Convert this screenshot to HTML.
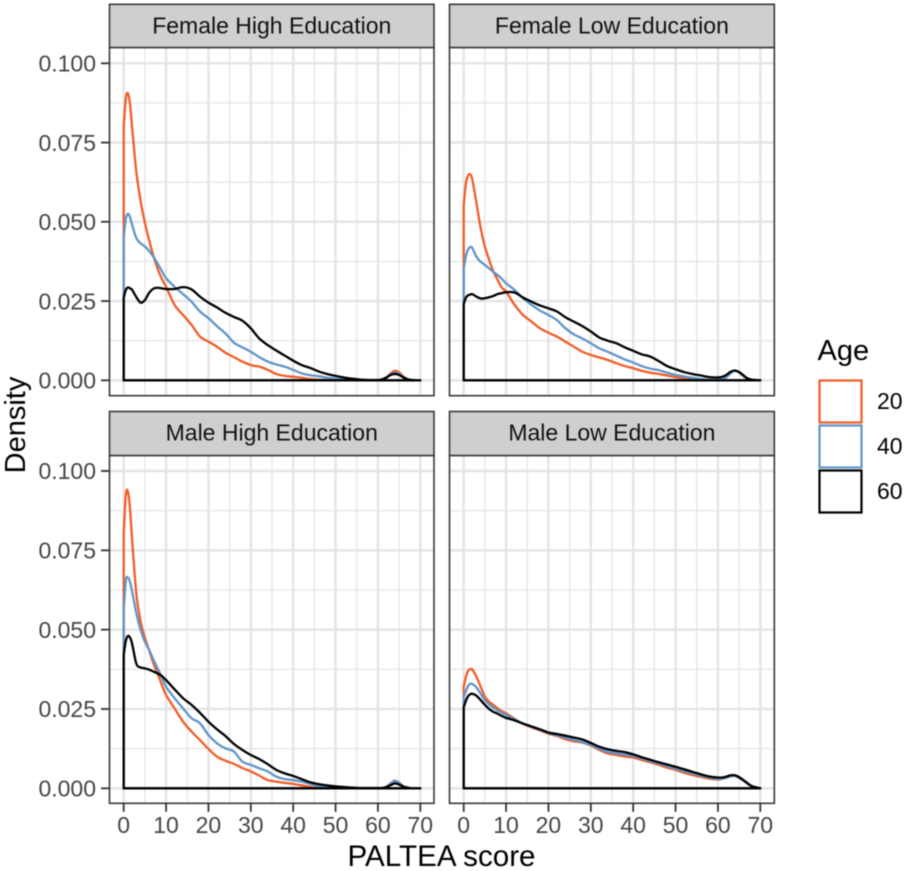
<!DOCTYPE html>
<html>
<head>
<meta charset="utf-8">
<title>PALTEA score density by age</title>
<style>
html,body{margin:0;padding:0;background:#fff;}
svg{display:block;filter:blur(0.4px);}
text{font-family:"Liberation Sans",sans-serif;}
</style>
</head>
<body>
<svg id="chart" xmlns="http://www.w3.org/2000/svg" width="905" height="871" viewBox="0 0 905 871"></svg>
<script>
const scoreGrid = [0,0.5,1,1.5,2,3,4,5,6,7,8,9,10,12,14,16,18,20,22,24,26,28,30,32,34,36,38,40,42,44,46,48,50,52,54,56,58,60,61,62,63,64,65,66,67,68,70];

const femaleHighAge20 = [.080,.089,.0905,.087,.0795,.0655,.0565,.0497,.0442,.0393,.0352,.032,.0295,.0238,.0206,.0175,.0138,.0122,.0106,.0087,.0073,.0059,.0048,.0043,.0033,.002,.0014,.0011,.0008,.0004,.0002,.0001,0,0,0,0,0,0,.0001,.0008,.0022,.003,.0025,.0012,.0004,.0001,0];
const femaleHighAge40 = [.045,.051,.0525,.0515,.049,.0448,.0432,.0422,.0408,.039,.0368,.0345,.0322,.0295,.0272,.0248,.0217,.0196,.0171,.0148,.0119,.0104,.009,.0073,.0059,.005,.0043,.0033,.0022,.0016,.0013,.0008,.0005,.0003,.0001,0,0,0,.0001,.0007,.0018,.0024,.002,.001,.0003,.0001,0];
const femaleHighAge60 = [.026,.0285,.0293,.029,.0285,.0262,.0245,.0253,.0276,.0289,.0292,.029,.0288,.0288,.0294,.0287,.0264,.0245,.023,.0213,.02,.0188,.0164,.0132,.0111,.0094,.0078,.0062,.0048,.0039,.0028,.002,.0014,.0009,.0005,.0002,.0001,.0001,.0003,.0009,.0017,.002,.0017,.0009,.0003,.0001,0];

const femaleLowAge20 = [.055,.062,.0645,.065,.0635,.056,.048,.0422,.038,.0343,.0317,.0292,.028,.0238,.0206,.0185,.0164,.015,.0138,.0122,.0106,.009,.008,.0072,.0064,.0054,.0045,.0038,.003,.0024,.002,.0015,.001,.0007,.0004,.0002,.0001,.0001,.0003,.001,.0024,.003,.0025,.0013,.0005,.0001,0];
const femaleLowAge40 = [.035,.039,.0412,.042,.0418,.039,.0374,.0364,.0353,.0342,.0332,.032,.0306,.0285,.0259,.0238,.022,.0206,.019,.0164,.0145,.0132,.0117,.0101,.009,.0078,.0066,.0056,.0045,.0037,.0032,.0024,.0017,.0012,.0008,.0004,.0002,.0001,.0003,.001,.0022,.003,.0025,.0013,.0005,.0001,0];
const femaleLowAge60 = [.024,.026,.0268,.027,.0272,.0264,.0258,.0259,.0262,.0266,.0272,.0275,.0278,.0277,.0261,.0248,.0236,.0227,.0217,.0199,.0185,.0171,.0154,.0135,.0125,.0117,.0104,.0093,.0082,.0075,.0061,.0045,.0035,.0026,.002,.0015,.001,.0009,.0011,.0017,.0027,.0031,.0026,.0016,.0006,.0002,0];

const maleHighAge20 = [.080,.0925,.0935,.088,.078,.061,.0525,.0475,.0435,.0394,.0362,.0326,.0294,.0252,.021,.0179,.0152,.0124,.01,.0087,.0077,.0064,.0053,.004,.0026,.0021,.0017,.0014,.0009,.0005,.0002,.0001,0,0,0,0,0,0,0,.0005,.0014,.0022,.0016,.0006,.0002,0,0];
const maleHighAge40 = [.056,.0655,.0664,.065,.062,.0551,.0499,.0462,.0436,.0406,.0378,.035,.032,.0284,.0252,.0221,.0205,.0168,.0142,.0126,.0116,.0084,.0074,.0063,.0053,.0037,.0029,.0026,.0021,.0014,.0008,.0005,.0003,.0002,.0001,0,0,0,0,.0005,.0016,.0024,.0018,.0007,.0002,0,0];
const maleHighAge60 = [.042,.0465,.048,.0475,.0455,.0392,.0381,.0378,.0374,.0368,.0362,.0354,.0341,.0312,.0284,.0263,.0238,.021,.0186,.0165,.014,.0121,.0105,.0092,.0076,.0058,.0047,.0039,.0029,.0019,.0013,.0009,.0006,.0004,.0002,.0001,.0001,.0001,.0001,.0004,.001,.0015,.0012,.0005,.0002,0,0];

const maleLowAge20 = [.032,.035,.037,.0375,.0375,.0352,.032,.0289,.0273,.0263,.0252,.0243,.0236,.0219,.0203,.0192,.0182,.0172,.0165,.0155,.0148,.0144,.0135,.0121,.011,.0105,.01,.0097,.0089,.0082,.0074,.0065,.0058,.0049,.0042,.0036,.003,.0028,.003,.0033,.0038,.0039,.0033,.0024,.0014,.0006,0];
const maleLowAge40 = [.029,.0305,.0322,.0329,.0329,.0318,.0298,.0278,.0264,.0254,.0245,.0238,.0231,.0217,.0204,.0194,.0184,.0174,.0167,.016,.0152,.0146,.0137,.0125,.0115,.011,.0106,.0102,.0094,.0086,.0078,.007,.0062,.0054,.0047,.004,.0034,.003,.0031,.0034,.0038,.0039,.0033,.0024,.0014,.0006,0];
const maleLowAge60 = [.0255,.0275,.029,.0296,.0298,.0292,.0278,.0263,.025,.0241,.0235,.0228,.0222,.0214,.0204,.0195,.0186,.0176,.0171,.0166,.016,.0154,.0143,.0131,.0123,.0118,.0114,.0107,.0098,.009,.0082,.0075,.0068,.006,.0052,.0044,.0037,.0034,.0034,.0037,.0041,.0041,.0035,.0026,.0016,.0007,0];

const xTickValues = [0,10,20,30,40,50,60,70];
const xMinorValues = [5,15,25,35,45,55,65];
const yTickValues = [0,0.025,0.05,0.075,0.1];
const yTickLabels = ["0.000","0.025","0.050","0.075","0.100"];
const yMinorValues = [0.0125,0.0375,0.0625,0.0875];
const ageLabels = ["20","40","60"];
const panelTitles = ["Female High Education","Female Low Education","Male High Education","Male Low Education"];
const panelSeries = [
  [femaleHighAge20,femaleHighAge40,femaleHighAge60],
  [femaleLowAge20,femaleLowAge40,femaleLowAge60],
  [maleHighAge20,maleHighAge40,maleHighAge60],
  [maleLowAge20,maleLowAge40,maleLowAge60]
];

const ageColors = ["#f15d27","#5f95c9","#000000"];
const svg = document.getElementById("chart");
const NS = "http://www.w3.org/2000/svg";

function mk(tag, attrs, parent, txt){
  const el = document.createElementNS(NS, tag);
  for (const k in attrs) el.setAttribute(k, attrs[k]);
  if (txt !== undefined) el.textContent = txt;
  (parent || svg).appendChild(el);
  return el;
}
function slug(s){ return s.toLowerCase().replace(/\s+/g, "-"); }

const columns = [{left:109.5,right:434,x0:123.7,x70:420.3},{left:449.5,right:774.3,x0:463.7,x70:760.3}];
const rows = [{stripTop:4.3,stripBottom:47.5,bottom:395.7,y0:380.3,y1:63.3},{stripTop:411.5,stripBottom:455.5,bottom:803.3,y0:788.3,y1:471}];

function smoothPath(pts){
  let d = "M" + pts[0][0].toFixed(2) + " " + pts[0][1].toFixed(2);
  for (let i = 0; i < pts.length - 1; i++){
    const p0 = pts[Math.max(i-1,0)], p1 = pts[i], p2 = pts[i+1], p3 = pts[Math.min(i+2,pts.length-1)];
    const c1x = p1[0] + (p2[0]-p0[0])/6, c1y = p1[1] + (p2[1]-p0[1])/6;
    const c2x = p2[0] - (p3[0]-p1[0])/6, c2y = p2[1] - (p3[1]-p1[1])/6;
    d += "C" + c1x.toFixed(2) + " " + c1y.toFixed(2) + " " + c2x.toFixed(2) + " " + c2y.toFixed(2) + " " + p2[0].toFixed(2) + " " + p2[1].toFixed(2);
  }
  return d;
}

panelTitles.forEach(function(title, idx){
  const col = columns[idx % 2], row = rows[Math.floor(idx / 2)];
  const xScale = function(v){ return col.x0 + (col.x70 - col.x0) * v / 70; };
  const yScale = function(v){ return row.y0 + (row.y1 - row.y0) * v / 0.1; };
  const w = col.right - col.left;
  const name = slug(title);

  const g = mk("g", {});
  
  

  const bg = mk("rect", {x:col.left, y:row.stripBottom, width:w, height:row.bottom-row.stripBottom, fill:"#ffffff"}, g);
  
  

  yMinorValues.forEach(function(v){
    const l = mk("line", {x1:col.left, x2:col.right, y1:yScale(v), y2:yScale(v), stroke:"#e6e6e6", "stroke-width":1.3}, g);
    
    
  });
  xMinorValues.forEach(function(v){
    const l = mk("line", {y1:row.stripBottom, y2:row.bottom, x1:xScale(v), x2:xScale(v), stroke:"#e6e6e6", "stroke-width":1.3}, g);
    
    
  });
  yTickValues.forEach(function(v){
    const l = mk("line", {x1:col.left, x2:col.right, y1:yScale(v), y2:yScale(v), stroke:"#e4e4e4", "stroke-width":2.4}, g);
    
    
  });
  xTickValues.forEach(function(v){
    const l = mk("line", {y1:row.stripBottom, y2:row.bottom, x1:xScale(v), x2:xScale(v), stroke:"#e4e4e4", "stroke-width":2.4}, g);
    
    
  });

  panelSeries[idx].forEach(function(values, s){
    const pts = scoreGrid.map(function(x, i){ return [xScale(x), yScale(values[i])]; });
    const first = "M" + xScale(0).toFixed(2) + " " + yScale(0).toFixed(2) + "L" + pts[0][0].toFixed(2) + " " + pts[0][1].toFixed(2);
    const d = first + smoothPath(pts).replace(/^M[^C]*/, "") + "L" + xScale(70).toFixed(2) + " " + yScale(0).toFixed(2) + "Z";
    const p = mk("path", {d:d, fill:"none", stroke:ageColors[s], "stroke-width":2.3, "stroke-linejoin":"round"}, g);
    
    
  });

  const border = mk("rect", {x:col.left, y:row.stripBottom, width:w, height:row.bottom-row.stripBottom, fill:"none", stroke:"#3a3a3a", "stroke-width":1.6}, g);
  
  

  const strip = mk("rect", {x:col.left, y:row.stripTop, width:w, height:row.stripBottom-row.stripTop, fill:"#cfcfcf", stroke:"#3a3a3a", "stroke-width":1.6}, g);
  
  

  const stripLabel = mk("text", {x:(col.left+col.right)/2, y:row.stripTop+29.2, "text-anchor":"middle", "font-size":23, fill:"#111111"}, g, title);
  
  

  if (idx % 2 === 0){
    yTickValues.forEach(function(v, i){
      const t = mk("line", {x1:col.left-8.5, x2:col.left, y1:yScale(v), y2:yScale(v), stroke:"#333333", "stroke-width":1.8}, g);
      
      
      const lb = mk("text", {x:96, y:yScale(v)+8.2, "text-anchor":"end", "font-size":23, fill:"#454545"}, g, yTickLabels[i]);
      
      
    });
  }
  if (idx >= 2){
    xTickValues.forEach(function(v){
      const t = mk("line", {y1:row.bottom, y2:row.bottom+8.5, x1:xScale(v), x2:xScale(v), stroke:"#333333", "stroke-width":1.8}, g);
      
      
      const lb = mk("text", {x:xScale(v), y:833, "text-anchor":"middle", "font-size":23, fill:"#454545"}, g, String(v));
      
      
    });
  }
});

const xTitle = mk("text", {x:441.5, y:866, "text-anchor":"middle", "font-size":29.6, fill:"#000000"}, svg, "PALTEA score");



const yTitle = mk("text", {x:0, y:0, transform:"translate(25 425) rotate(-90)", "text-anchor":"middle", "font-size":29, fill:"#000000"}, svg, "Density");



const legendTitle = mk("text", {x:817.5, y:360, "font-size":29, fill:"#000000"}, svg, "Age");



const legendTop = 380, legendStep = 45, keySize = 42;
ageLabels.forEach(function(label, i){
  const y = legendTop + i * legendStep;
  const entry = mk("g", {});
  
  
  const key = mk("rect", {x:819.5, y:y+0.5, width:keySize, height:keySize, fill:"#ffffff", stroke:ageColors[i], "stroke-width":2.2}, entry);
  
  
  const lb = mk("text", {x:877, y:y+29, "font-size":23, fill:"#000000"}, entry, label);
  
  
});
</script>
</body>
</html>
